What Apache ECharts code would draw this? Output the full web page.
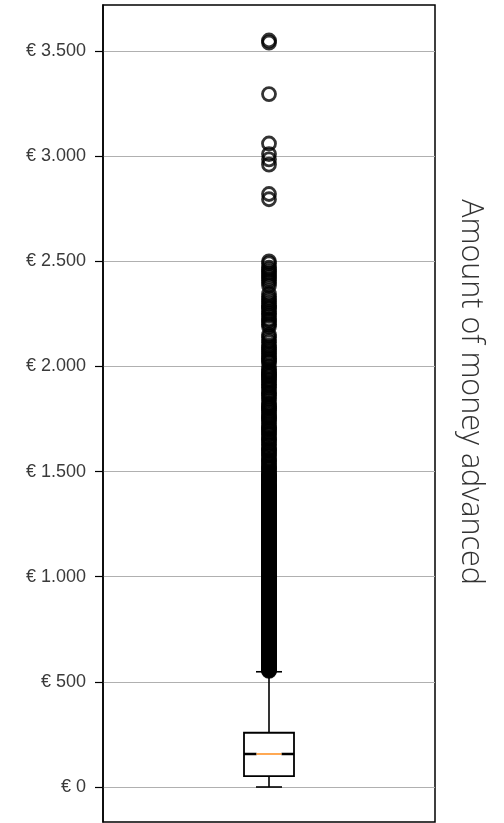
<!DOCTYPE html>
<html>
<head>
<meta charset="utf-8">
<script src="https://cdn.jsdelivr.net/npm/echarts@6/dist/echarts.min.js"></script>
<style>
html,body{margin:0;padding:0;background:#fff;}
#chart{width:504px;height:823px;}
</style>
</head>
<body>
<div id="chart"></div>
<script>
// Tick values on the y axis (euros)
var tickValues = [0, 500, 1000, 1500, 2000, 2500, 3000, 3500];
// Axis title
var axisTitle = 'Amount of money advanced';
// Box statistics: [lower whisker, Q1, median, Q3, upper whisker]
var boxStats = [0, 52, 157, 258, 548];
// Outlier values (euros)
var outliers = [
  552, 555, 558, 562, 565, 568, 570, 573, 575, 578, 580, 584, 588, 590, 595, 598, 600, 603, 605, 608,
  612, 615, 620, 623, 625, 628, 630, 634, 638, 640, 645, 648, 650, 653, 655, 658, 660, 664, 668, 670,
  675, 678, 680, 683, 685, 688, 690, 694, 698, 700, 705, 708, 710, 714, 718, 720, 725, 728, 730, 733,
  735, 738, 740, 744, 748, 750, 755, 758, 760, 763, 765, 768, 770, 773, 775, 778, 780, 785, 790, 792,
  795, 798, 800, 803, 805, 808, 810, 813, 815, 818, 820, 823, 825, 828, 830, 835, 840, 843, 845, 848,
  850, 853, 855, 858, 860, 863, 865, 868, 870, 873, 875, 878, 880, 885, 890, 892, 895, 898, 900, 903,
  905, 908, 910, 913, 915, 918, 920, 923, 925, 928, 930, 935, 940, 943, 945, 948, 950, 953, 955, 958,
  960, 963, 965, 968, 970, 973, 975, 978, 980, 985, 990, 992, 995, 998, 1000, 1003, 1005, 1008, 1010,
  1013, 1015, 1018, 1020, 1023, 1025, 1028, 1030, 1035, 1040, 1043, 1045, 1048, 1050, 1053, 1055, 1058,
  1060, 1065, 1070, 1073, 1075, 1078, 1080, 1085, 1090, 1093, 1095, 1098, 1100, 1103, 1105, 1108, 1110,
  1115, 1120, 1123, 1125, 1128, 1130, 1135, 1140, 1143, 1145, 1148, 1150, 1155, 1160, 1163, 1165, 1168,
  1170, 1175, 1180, 1183, 1185, 1188, 1190, 1195, 1200, 1203, 1205, 1208, 1210, 1215, 1220, 1223, 1225,
  1228, 1230, 1235, 1240, 1243, 1245, 1248, 1250, 1255, 1260, 1263, 1265, 1268, 1270, 1275, 1280, 1285,
  1290, 1293, 1295, 1298, 1300, 1305, 1310, 1313, 1315, 1318, 1320, 1325, 1330, 1335, 1340, 1343, 1345,
  1348, 1350, 1355, 1360, 1365, 1370, 1373, 1375, 1378, 1380, 1385, 1390, 1395, 1400, 1405, 1410, 1415,
  1420, 1423, 1425, 1428, 1430, 1435, 1440, 1445, 1450, 1455, 1460, 1465, 1470, 1473, 1475, 1478, 1480,
  1485, 1490, 1500,
  1510, 1515, 1520, 1525, 1535, 1540, 1550, 1555, 1560, 1575, 1580, 1590, 1600, 1605, 1610, 1625, 1630,
  1640, 1650, 1655, 1660, 1675, 1680, 1690, 1700, 1705, 1710, 1720, 1730, 1740, 1750, 1755, 1760, 1770,
  1780, 1790, 1800, 1805, 1810, 1820, 1825, 1840, 1850, 1860, 1870, 1875, 1890, 1900, 1910, 1915, 1925,
  1935, 1940, 1950, 1955, 1960, 1970, 1975, 1985, 2000, 2020, 2025, 2035, 2040, 2050, 2060, 2070, 2080,
  2090, 2100, 2115, 2125, 2140, 2150,
  2190, 2200, 2210, 2220, 2225, 2240, 2250, 2260, 2275, 2280, 2290, 2300, 2310, 2320, 2330, 2345,
  2385, 2400, 2410, 2420, 2430, 2440, 2450, 2460, 2470, 2490, 2500,
  2795, 2820, 2960, 2985, 3010, 3060, 3295, 3540, 3550
];

function fmtEuro(v) {
  var s = String(Math.round(v));
  s = s.replace(/\B(?=(\d{3})+(?!\d))/g, '.');
  return '€ ' + s;
}

var chart = echarts.init(document.getElementById('chart'), null, {renderer: 'canvas'});

var boxData = [[0.5].concat(boxStats)];
var outlierData = outliers.map(function (v) { return [0.5, v]; });

var option = {
  backgroundColor: '#ffffff',
  animation: false,
  grid: {
    left: 103, right: 69, top: 5, bottom: 1,
    show: true, borderColor: '#000', borderWidth: 1.5, backgroundColor: 'transparent'
  },
  xAxis: {
    type: 'value', min: 0, max: 1, show: false
  },
  yAxis: {
    type: 'value',
    min: -166.4,
    max: 3718.7,
    axisLine: {show: true, lineStyle: {color: '#000', width: 1.5}},
    axisTick: {show: true, inside: false, length: 8, customValues: tickValues, lineStyle: {color: '#000', width: 1.2}},
    axisLabel: {
      customValues: tickValues,
      margin: 17,
      fontFamily: 'Liberation Sans, Arial, sans-serif',
      fontSize: 18,
      color: '#3a3a3a',
      formatter: function (v) { return fmtEuro(v); }
    },
    splitLine: {show: true, lineStyle: {color: '#b0b0b0', width: 1}}
  },
  graphic: [{
    type: 'text',
    x: 471, y: 392,
    rotation: -Math.PI / 2,
    style: {
      text: axisTitle,
      fontFamily: 'Open Sans, Roboto, sans-serif',
      fontWeight: 300,
      fontSize: 30.5,
      fill: '#333',
      align: 'center',
      verticalAlign: 'middle'
    }
  }],
  series: [
    {
      type: 'custom',
      z: 2,
      data: boxData,
      renderItem: function (params, api) {
        var x = api.value(0);
        var lo = api.coord([x, api.value(1)]);
        var q1 = api.coord([x, api.value(2)]);
        var med = api.coord([x, api.value(3)]);
        var q3 = api.coord([x, api.value(4)]);
        var hi = api.coord([x, api.value(5)]);
        var cx = lo[0];
        var bw = 50, cw = 26, nw = bw / 4;
        var L = cx - bw / 2, R = cx + bw / 2;
        var black = {stroke: '#000', lineWidth: 1.6, fill: null};
        return {
          type: 'group',
          children: [
            {type: 'line', shape: {x1: cx, y1: q3[1], x2: cx, y2: hi[1]}, style: black},
            {type: 'line', shape: {x1: cx, y1: q1[1], x2: cx, y2: lo[1]}, style: black},
            {type: 'line', shape: {x1: cx - cw / 2, y1: hi[1], x2: cx + cw / 2, y2: hi[1]}, style: black},
            {type: 'line', shape: {x1: cx - cw / 2, y1: lo[1], x2: cx + cw / 2, y2: lo[1]}, style: black},
            {type: 'rect', shape: {x: L, y: q3[1], width: bw, height: q1[1] - q3[1]},
              style: {fill: '#fff', stroke: '#000', lineWidth: 1.8}},
            {type: 'line', shape: {x1: L, y1: med[1], x2: L + nw, y2: med[1]}, style: {stroke: '#000', lineWidth: 2.5}},
            {type: 'line', shape: {x1: R - nw, y1: med[1], x2: R, y2: med[1]}, style: {stroke: '#000', lineWidth: 2.5}},
            {type: 'line', shape: {x1: L + nw, y1: med[1], x2: R - nw, y2: med[1]}, style: {stroke: '#ff8c1a', lineWidth: 1.5}}
          ]
        };
      }
    },
    {
      type: 'scatter',
      z: 3,
      data: outlierData,
      symbol: 'circle',
      symbolSize: 13,
      itemStyle: {color: 'rgba(255,255,255,0)', borderColor: '#000', borderWidth: 2.8},
      emphasis: {disabled: true}
    }
  ]
};
chart.setOption(option);
</script>
</body>
</html>
